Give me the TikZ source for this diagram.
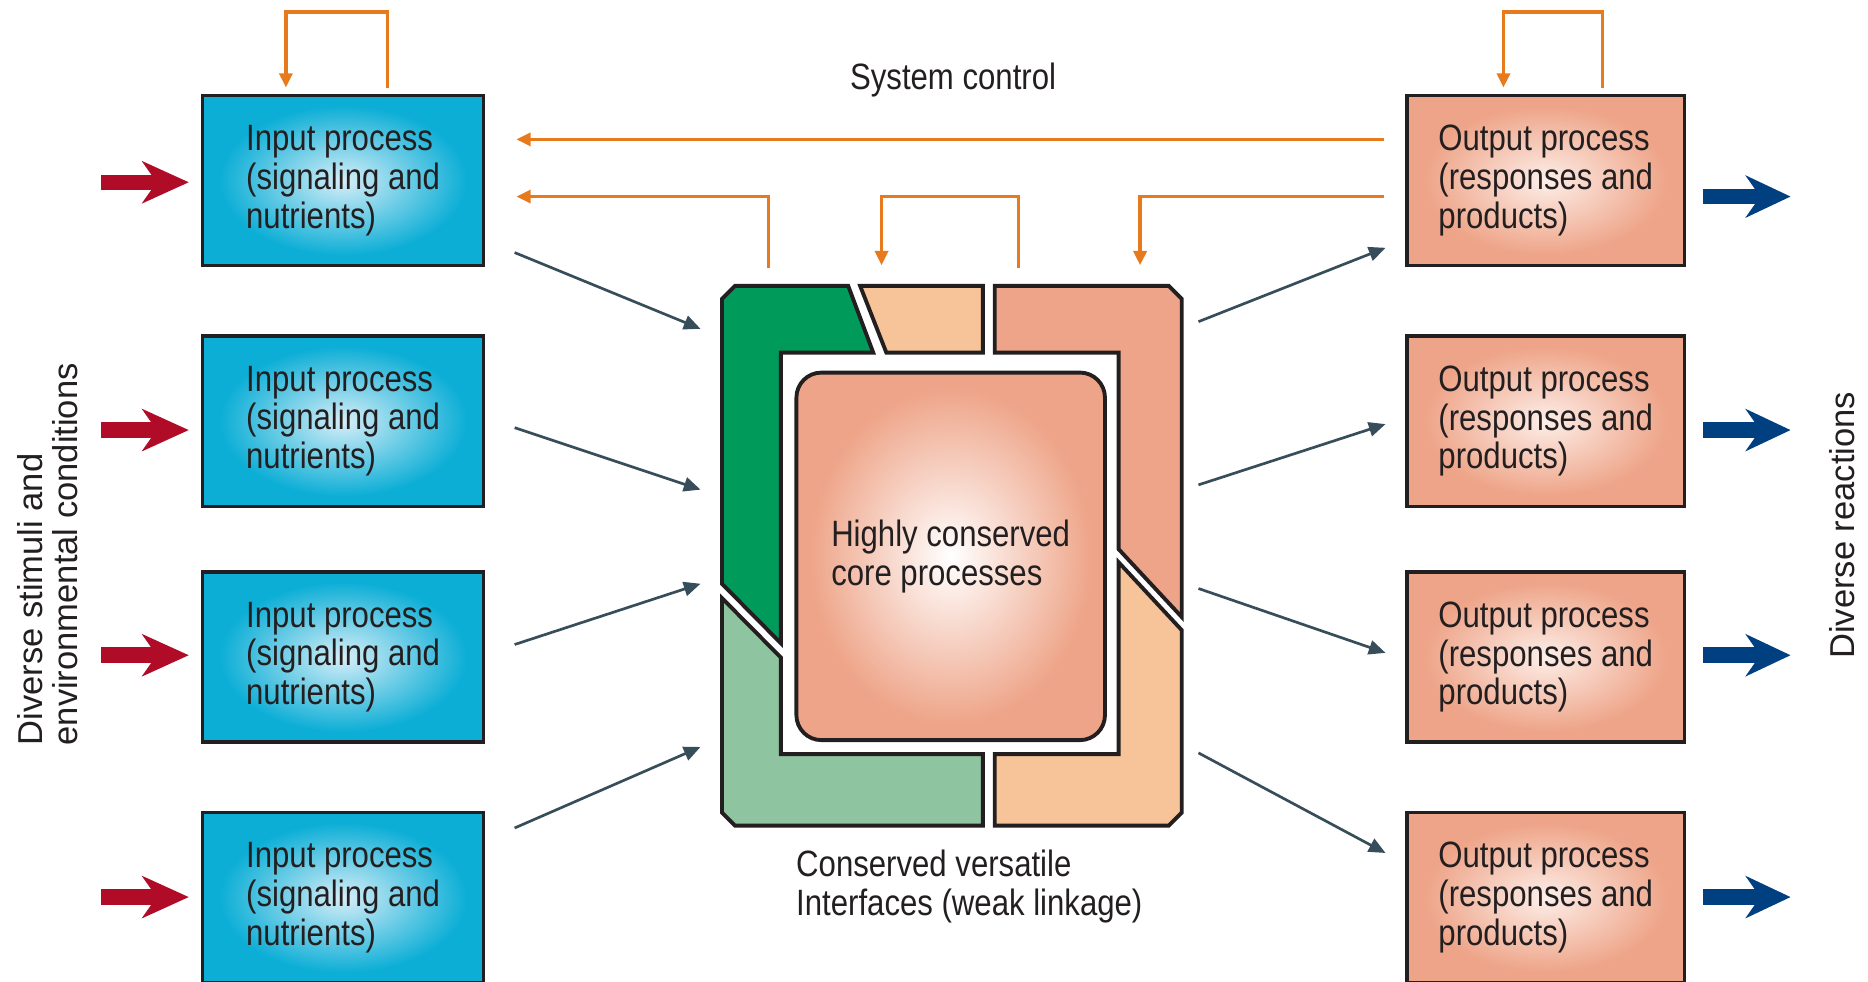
\documentclass[tikz,border=0pt]{standalone}
\usepackage{fontspec}
\setmainfont{Liberation Sans}[FakeStretch=0.85]
\newfontfamily\sidefamily{Liberation Sans}
\usetikzlibrary{arrows.meta}

\definecolor{ink}{RGB}{35,31,32}
\definecolor{incyan}{RGB}{12,174,214}
\definecolor{inlight}{RGB}{214,238,248}
\definecolor{salmon}{RGB}{238,164,136}
\definecolor{salmonlight}{RGB}{253,238,232}
\definecolor{peach}{RGB}{246,196,152}
\definecolor{dkgreen}{RGB}{0,154,90}
\definecolor{ltgreen}{RGB}{143,196,160}
\definecolor{ctrlorange}{RGB}{232,122,30}
\definecolor{crimson}{RGB}{176,12,40}
\definecolor{navy}{RGB}{0,63,128}
\definecolor{slate}{RGB}{55,78,90}

\pgfdeclareradialshading{inshade}{\pgfpoint{0bp}{0bp}}{color(0bp)=(inlight); color(22bp)=(incyan); color(50bp)=(incyan)}
\pgfdeclareradialshading{outshade}{\pgfpoint{0bp}{0bp}}{color(0bp)=(salmonlight); color(22bp)=(salmon); color(50bp)=(salmon)}
\pgfdeclareradialshading{coreshade}{\pgfpoint{0bp}{0bp}}{color(0bp)=(white); color(23bp)=(salmon); color(50bp)=(salmon)}

\newcommand\boxfont{\fontsize{17.5pt}{18.5pt}\selectfont}
\newcommand\sidefont{\sidefamily\fontsize{16.5pt}{17pt}\selectfont}

\begin{document}
\begin{tikzpicture}[x=0.2mm,y=-0.2mm,
  inbox/.style={draw=ink,line width=0.6mm,shade,shading=inshade,minimum width=47.2mm,minimum height=28.6mm,inner sep=0pt,align=left,text=ink,font=\boxfont},
  outbox/.style={inbox,shading=outshade,minimum width=46.6mm},
  piece/.style={draw=ink,line width=0.65mm,line join=miter},
  note/.style={inner sep=0pt,text=ink,font=\boxfont},
  inarrow/.style={->,>={Stealth[length=7.8mm,width=7mm,inset=2.4mm]},line width=2.6mm,draw=crimson},
  outarrow/.style={->,>={Stealth[length=7.5mm,width=7mm,inset=2.4mm]},line width=2.6mm,draw=navy},
  ctrl/.style={->,>={Triangle[length=2.4mm,width=2.2mm]},line width=0.55mm,draw=ctrlorange},
  link/.style={->,>={Triangle[length=2.8mm,width=2.4mm]},line width=0.45mm,draw=slate}]

\useasboundingbox (0,0) rectangle (1568,824);
\clip (0,0) rectangle (1568,824);

% input and output processes
\node[inbox] (in1) at (288,151.5) {Input process\\(signaling and\\nutrients)};
\node[inbox] (in2) at (288,353.5) {Input process\\(signaling and\\nutrients)};
\node[inbox] (in3) at (288,551.5) {Input process\\(signaling and\\nutrients)};
\node[inbox] (in4) at (288,753.5) {Input process\\(signaling and\\nutrients)};

\node[outbox] (out1) at (1297.5,151.5) {Output process\\(responses and\\products)};
\node[outbox] (out2) at (1297.5,353.5) {Output process\\(responses and\\products)};
\node[outbox] (out3) at (1297.5,551.5) {Output process\\(responses and\\products)};
\node[outbox] (out4) at (1297.5,753.5) {Output process\\(responses and\\products)};

% conserved core with its interfaces
\node[inner sep=0pt,minimum width=77.2mm,minimum height=90.6mm] (hub) at (799,466.5) {};
\filldraw[piece,fill=dkgreen] (606,251) -- (617,240) -- (712,240) -- (733,296) -- (655.5,296) -- (655.5,540) -- (606,490) -- cycle;
\filldraw[piece,fill=peach] (722,240) -- (825,240) -- (825,296) -- (744,296) -- cycle;
\filldraw[piece,fill=salmon] (835,240) -- (981,240) -- (992,251) -- (992,518) -- (939,461) -- (939,296) -- (835,296) -- cycle;
\filldraw[piece,fill=peach] (939,472) -- (992,529) -- (992,682) -- (981,693) -- (835,693) -- (835,633) -- (939,633) -- cycle;
\filldraw[piece,fill=ltgreen] (606,502) -- (655.5,552) -- (655.5,633) -- (825,633) -- (825,693) -- (617,693) -- (606,682) -- cycle;
\node[draw=ink,line width=0.65mm,shade,shading=coreshade,rounded corners=4.2mm,minimum width=51.8mm,minimum height=61.7mm,inner sep=0pt,align=left,text=ink,font=\boxfont] (core) at (798,467) {Highly conserved\\core processes};

% labels
\node[note] (sys) at (800,67) {System control};
\node[note,anchor=west,align=left] (iface) at (668,744) {Conserved versatile\\Interfaces (weak linkage)};
\node[note,font=\sidefont,rotate=90,anchor=west,align=left] (stim) at (40,626) {Diverse stimuli and\\environmental conditions};
\node[note,font=\sidefont,rotate=90] (react) at (1546,441) {Diverse reactions};

% stimuli and reactions
\coordinate (r1) at (85,153);
\coordinate (r2) at (85,361);
\coordinate (r3) at (85,550);
\coordinate (r4) at (85,753);
\draw[inarrow,shorten >=2mm] (r1) -- (r1 -| in1.west);
\draw[inarrow,shorten >=2mm] (r2) -- (r2 -| in2.west);
\draw[inarrow,shorten >=2mm] (r3) -- (r3 -| in3.west);
\draw[inarrow,shorten >=2mm] (r4) -- (r4 -| in4.west);

\coordinate (b1) at (1503,165);
\coordinate (b2) at (1503,361);
\coordinate (b3) at (1503,550);
\coordinate (b4) at (1503,753);
\draw[outarrow,shorten <=2.8mm] (b1 -| out1.east) -- (b1);
\draw[outarrow,shorten <=2.8mm] (b2 -| out2.east) -- (b2);
\draw[outarrow,shorten <=2.8mm] (b3 -| out3.east) -- (b3);
\draw[outarrow,shorten <=2.8mm] (b4 -| out4.east) -- (b4);

% system control
\coordinate (la) at (240,10);
\coordinate (lb) at (325,10);
\coordinate (lc) at (1262,10);
\coordinate (ld) at (1345,10);
\draw[ctrl,shorten <=1mm,shorten >=1mm] (lb |- in1.north) -- (lb) -- (la) -- (la |- in1.north);
\draw[ctrl,shorten <=1mm,shorten >=1mm] (ld |- out1.north) -- (ld) -- (lc) -- (lc |- out1.north);

\coordinate (sc) at (800,117);
\draw[ctrl,shorten <=3.6mm,shorten >=5.2mm] (sc -| out1.west) -- (sc -| in1.east);

\coordinate (ca) at (645,165);
\coordinate (cb) at (855,165);
\coordinate (cc) at (740,165);
\coordinate (cd) at (957,165);
\draw[ctrl,shorten <=3mm,shorten >=5.2mm] (ca |- hub.north) -- (ca) -- (ca -| in1.east);
\draw[ctrl,shorten <=3mm,shorten >=3.4mm] (cb |- hub.north) -- (cb) -- (cc) -- (cc |- hub.north);
\draw[ctrl,shorten <=3.6mm,shorten >=3.4mm] (cd -| out1.west) -- (cd) -- (cd |- hub.north);

% weak linkage to the core
\coordinate (s1) at (432,212);  \coordinate (t1) at (588,276);
\coordinate (s2) at (432,359);  \coordinate (t2) at (588,411);
\coordinate (s3) at (432,541);  \coordinate (t3) at (588,490);
\coordinate (s4) at (432,695);  \coordinate (t4) at (588,627);
\draw[link] (s1) -- (t1);
\draw[link] (s2) -- (t2);
\draw[link] (s3) -- (t3);
\draw[link] (s4) -- (t4);

\coordinate (u1) at (1006,270);  \coordinate (v1) at (1163,208);
\coordinate (u2) at (1006,407);  \coordinate (v2) at (1163,356);
\coordinate (u3) at (1006,494);  \coordinate (v3) at (1163,548);
\coordinate (u4) at (1006,632);  \coordinate (v4) at (1163,716);
\draw[link] (u1) -- (v1);
\draw[link] (u2) -- (v2);
\draw[link] (u3) -- (v3);
\draw[link] (u4) -- (v4);

\end{tikzpicture}
\end{document}
